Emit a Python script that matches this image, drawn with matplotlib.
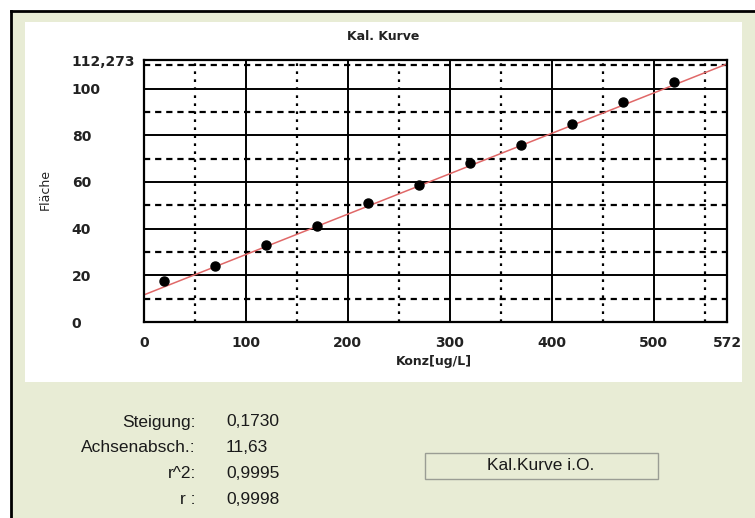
import numpy as np
import matplotlib
matplotlib.use("Agg")
import matplotlib.pyplot as plt
from matplotlib.patches import Rectangle
from matplotlib.lines import Line2D

# calibration points
konz = [20, 70, 120, 170, 220, 270, 320, 370, 420, 470, 520]
flaeche = [17.6, 23.8, 33.0, 41.3, 51.2, 58.7, 68.0, 76.0, 84.8, 94.2, 102.7]

slope = 0.1730
intercept = 11.63
x_max = 572
y_max = 112.273

x_ticks = [0, 100, 200, 300, 400, 500, 572]
x_ticklabels = ["0", "100", "200", "300", "400", "500", "572"]
y_ticks = [0, 20, 40, 60, 80, 100, 112.273]
y_ticklabels = ["0", "20", "40", "60", "80", "100", "112,273"]

stat_names = ["Steigung:", "Achsenabsch.:", "r^2:", "r :"]
stat_values = ["0,1730", "11,63", "0,9995", "0,9998"]
status_text = "Kal.Kurve i.O."

W, H = 755, 518
beige = "#e8ecd5"
chart_font = ['DejaVu Sans']
dialog_font = ['Liberation Sans', 'DejaVu Sans']

fig = plt.figure(figsize=(W / 100, H / 100), dpi=100)
fig.patch.set_facecolor("white")


def fx(x):
    return x / W


def fy(y):
    return 1 - y / H


# dialog background, its top/left border, and the white chart panel
fig.add_artist(Rectangle((fx(11), 0), 1, fy(11),
                         transform=fig.transFigure, facecolor=beige,
                         edgecolor="none", zorder=0))
fig.add_artist(Line2D([fx(11), 1], [fy(11), fy(11)], transform=fig.transFigure,
                      color="black", lw=2.0))
fig.add_artist(Line2D([fx(11), fx(11)], [0, fy(11)], transform=fig.transFigure,
                      color="black", lw=2.0))
fig.add_artist(Rectangle((fx(25), fy(382)), fx(742 - 25), (382 - 22) / H,
                         transform=fig.transFigure, facecolor="white",
                         edgecolor="none", zorder=0))

ax = fig.add_axes([fx(144), fy(322), fx(727 - 144), (322 - 60) / H])
ax.set_xlim(0, x_max)
ax.set_ylim(0, y_max)

# grid: solid major, dashed/dotted minor
for v in range(100, 600, 100):
    ax.axvline(v, color="black", lw=1.4, zorder=1)
for v in range(50, 600, 100):
    ax.axvline(v, color="black", lw=1.6, ls=(0, (1.2, 2.4)), zorder=1)
for v in range(20, 120, 20):
    ax.axhline(v, color="black", lw=1.4, zorder=1)
for v in range(10, 120, 20):
    ax.axhline(v, color="black", lw=1.6, ls=(0, (2.8, 2.2)), zorder=1)

xs = np.array([0, x_max])
ax.plot(xs, slope * xs + intercept, color="#e06868", lw=1.1, zorder=2)
ax.plot(konz, flaeche, "o", color="black", ms=6.5, zorder=3)

for s in ax.spines.values():
    s.set_linewidth(1.6)

ax.set_xticks(x_ticks)
ax.set_xticklabels(x_ticklabels, fontsize=10, fontweight="bold",
                   family=chart_font, color="#222222")
ax.set_yticks(y_ticks)
ax.set_yticklabels(y_ticklabels, fontsize=10, fontweight="bold",
                   family=chart_font, color="#222222")
ax.tick_params(axis="x", length=0, pad=10)
ax.tick_params(axis="y", length=0, pad=52)
for lbl in ax.get_yticklabels():
    lbl.set_horizontalalignment("left")

fig.text(fx(383), fy(36), "Kal. Kurve", ha="center", va="center",
         fontsize=9, fontweight="bold", family=chart_font, color="#222222")
fig.text(fx(434), fy(361), "Konz[ug/L]", ha="center", va="center",
         fontsize=9, fontweight="bold", family=chart_font, color="#222222")
fig.text(fx(45), fy(190), "Fläche", ha="center", va="center",
         rotation=90, fontsize=9, family=chart_font, color="#222222")

# regression results below the chart
rows_y = [422, 448, 473, 499]
for name, val, y in zip(stat_names, stat_values, rows_y):
    fig.text(fx(196), fy(y), name, ha="right", va="center", fontsize=12.5,
             family=dialog_font, color="#1a1a1a")
    fig.text(fx(226), fy(y), val, ha="left", va="center", fontsize=12.5,
             family=dialog_font, color="#1a1a1a")

fig.add_artist(Rectangle((fx(425), fy(479)), fx(658 - 425), (479 - 453) / H,
                         transform=fig.transFigure, facecolor=beige,
                         edgecolor="#9a9d94", lw=1.0))
fig.text(fx(541), fy(466), status_text, ha="center", va="center",
         fontsize=12.5, family=dialog_font, color="#1a1a1a")

fig.savefig("out.png", dpi=100, facecolor=fig.get_facecolor())
